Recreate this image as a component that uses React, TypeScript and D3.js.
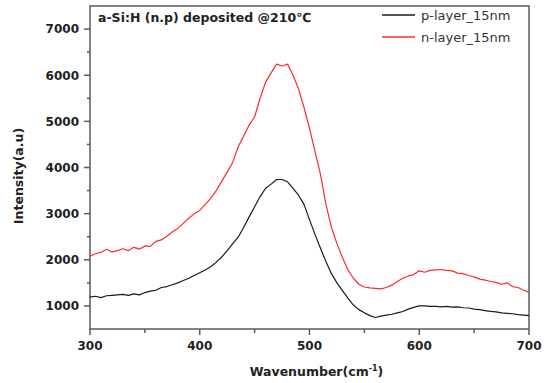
import React from "react";
import * as d3 from "d3";

const wavenumbers = [
  300, 305, 310, 315, 320, 325, 330, 335, 340, 345, 350, 355, 360, 365, 370, 375, 380, 385, 390, 395,
  400, 405, 410, 415, 420, 425, 430, 435, 440, 445, 450, 455, 460, 465, 470, 475, 480, 485, 490, 495,
  500, 505, 510, 515, 520, 525, 530, 535, 540, 545, 550, 555, 560, 565, 570, 575, 580, 585, 590, 595,
  600, 605, 610, 615, 620, 625, 630, 635, 640, 645, 650, 655, 660, 665, 670, 675, 680, 685, 690, 695,
  700,
];

const pLayer = [
  1190, 1210, 1180, 1220, 1230, 1240, 1250, 1230, 1260, 1240, 1290, 1320, 1340, 1400, 1420, 1460, 1500, 1550, 1600, 1660,
  1720, 1780, 1850, 1950, 2060, 2200, 2350, 2490, 2700, 2930, 3150, 3370, 3550, 3640, 3740, 3740, 3690, 3550, 3400, 3200,
  2870, 2550, 2250, 1960, 1700, 1500, 1330, 1170, 1020, 920, 850, 790, 750, 780, 800, 820, 850, 880, 930, 970,
  1000, 1000, 990, 990, 980, 990, 975, 980, 960, 955, 930, 920, 900, 880, 870, 850, 840, 830, 810, 800,
  790,
];

const nLayer = [
  2080, 2130, 2160, 2230, 2170, 2200, 2240, 2200, 2270, 2230, 2300, 2290, 2400, 2430, 2510, 2600, 2680, 2790, 2900, 3000,
  3070, 3200, 3330, 3500, 3700, 3900, 4110, 4450, 4680, 4920, 5100, 5500, 5850, 6050, 6240, 6200, 6240, 6000, 5700, 5300,
  4850, 4350, 3850, 3200, 2700, 2350, 2050, 1780, 1600, 1470, 1410, 1390, 1380, 1370, 1400, 1450, 1530, 1600, 1650, 1680,
  1760, 1730, 1770, 1780, 1790, 1770, 1760, 1710, 1700, 1660, 1630, 1580, 1560, 1530, 1510, 1470, 1500, 1420, 1400, 1340,
  1300,
];

const xTicks = [300, 400, 500, 600, 700];
const xMinorTicks = [350, 450, 550, 650];
const yTicks = [1000, 2000, 3000, 4000, 5000, 6000, 7000];
const yMinorTicks = [1500, 2500, 3500, 4500, 5500, 6500];

const seriesNames = ["p-layer_15nm", "n-layer_15nm"];
const seriesColors = ["#1a1a1a", "#ff2a2a"];
const titleText = "a-Si:H (n.p) deposited @210\u2103";

export default function App() {
  const W = 544;
  const H = 383;
  const left = 90;
  const right = 529;
  const top = 6;
  const bottom = 329;

  const x = d3.scaleLinear().domain([300, 700]).range([left, right]);
  const y = d3.scaleLinear().domain([500, 7500]).range([bottom, top]);

  const line = d3
    .line<number>()
    .x((_, i) => x(wavenumbers[i]))
    .y((d) => y(d));

  const series = [pLayer, nLayer];
  const axisColor = "#5a5a5a";
  const tickFont = "'DejaVu Sans', sans-serif";

  return (
    <svg
      width={W}
      height={H}
      style={{ position: "absolute", left: 0, top: 0, background: "#fff" }}
    >
      <rect x={0} y={0} width={W} height={H} fill="#fff" />
      {/* frame */}
      <rect
        x={left}
        y={top}
        width={right - left}
        height={bottom - top}
        fill="none"
        stroke={axisColor}
        strokeWidth={1.5}
      />
      {/* curves */}
      {series.map((s, i) => (
        <path
          key={i}
          d={line(s) || ""}
          fill="none"
          stroke={seriesColors[i]}
          strokeWidth={1.2}
          strokeLinejoin="round"
        />
      ))}
      {/* y ticks */}
      {yTicks.map((t) => (
        <g key={"y" + t}>
          <line x1={left - 6} x2={left} y1={y(t)} y2={y(t)} stroke={axisColor} strokeWidth={1.5} />
          <text
            x={left - 11}
            y={y(t)}
            dy="0.36em"
            textAnchor="end"
            fontFamily={tickFont}
            fontWeight="bold"
            fontSize={12}
            fill="#222"
          >
            {t}
          </text>
        </g>
      ))}
      {yMinorTicks.map((t) => (
        <line key={"ym" + t} x1={left - 3} x2={left} y1={y(t)} y2={y(t)} stroke={axisColor} strokeWidth={1.5} />
      ))}
      {/* x ticks */}
      {xTicks.map((t) => (
        <g key={"x" + t}>
          <line x1={x(t)} x2={x(t)} y1={bottom} y2={bottom + 6} stroke={axisColor} strokeWidth={1.5} />
          <text
            x={x(t)}
            y={bottom + 21}
            textAnchor="middle"
            fontFamily={tickFont}
            fontWeight="bold"
            fontSize={12}
            fill="#222"
          >
            {t}
          </text>
        </g>
      ))}
      {xMinorTicks.map((t) => (
        <line key={"xm" + t} x1={x(t)} x2={x(t)} y1={bottom} y2={bottom + 4} stroke={axisColor} strokeWidth={1.5} />
      ))}
      {/* axis titles */}
      <text
        x={(left + right) / 2 + 7}
        y={376}
        textAnchor="middle"
        fontFamily={tickFont}
        fontWeight="bold"
        fontSize={12.5}
        fill="#222"
      >
        Wavenumber(cm
        <tspan dy={-5} fontSize={8}>-1</tspan>
        <tspan dy={5}>)</tspan>
      </text>
      <text
        transform={`translate(23, 176) rotate(-90)`}
        textAnchor="middle"
        fontFamily={tickFont}
        fontWeight="bold"
        fontSize={12.5}
        fill="#222"
      >
        Intensity(a.u)
      </text>
      {/* title */}
      <text x={98} y={22} fontFamily={tickFont} fontWeight="bold" fontSize={12.5} fill="#222">
        {titleText}
      </text>
      {/* legend */}
      {seriesNames.map((n, i) => (
        <g key={n}>
          <line x1={382} x2={415} y1={15 + i * 22} y2={15 + i * 22} stroke={seriesColors[i]} strokeWidth={1.5} />
          <text
            x={421}
            y={15 + i * 22}
            dy="0.36em"
            fontFamily={tickFont}
            fontSize={13}
            fill="#333"
          >
            {n}
          </text>
        </g>
      ))}
    </svg>
  );
}
